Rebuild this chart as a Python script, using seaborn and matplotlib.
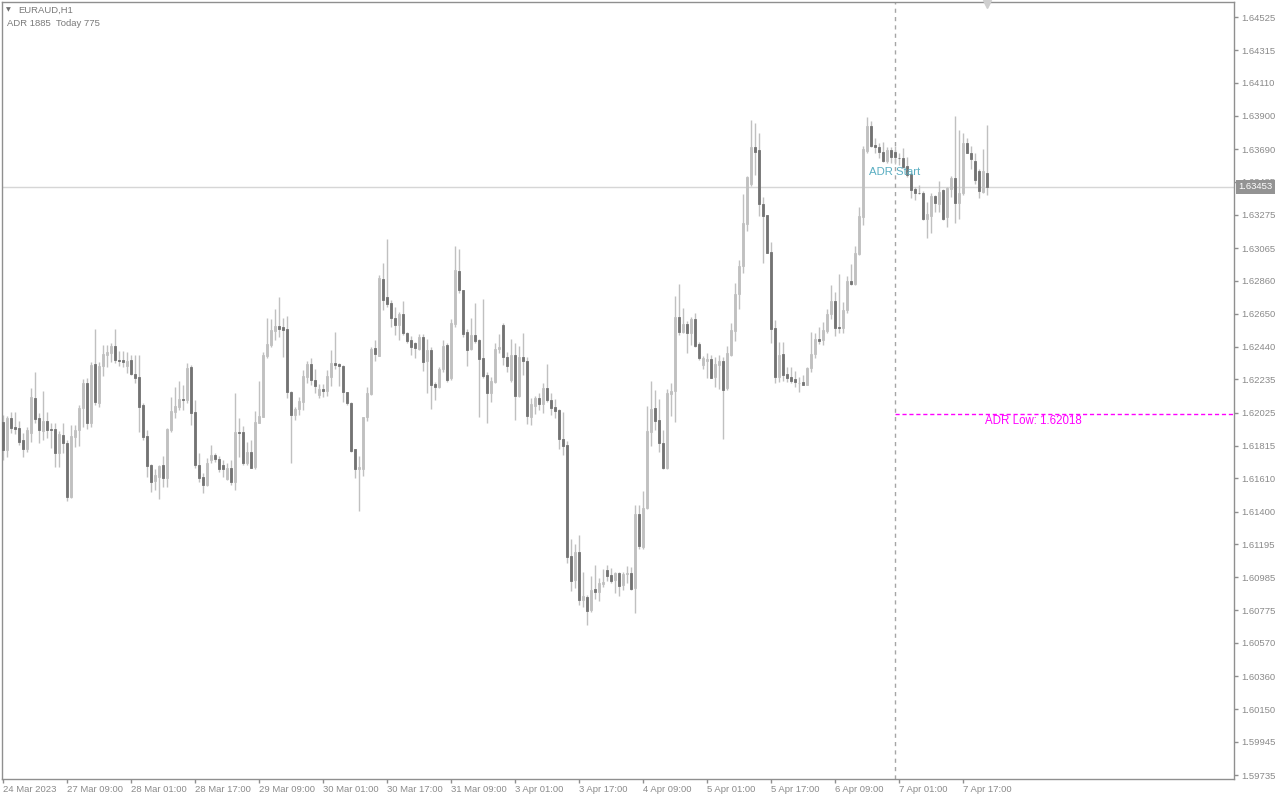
import numpy as np
import pandas as pd
import matplotlib
matplotlib.use("Agg")
import matplotlib.pyplot as plt
import seaborn as sns

# EURAUD H1 candles, 24 Mar 2023 17:00 .. 7 Apr 2023 23:00
opens = [
    1.61968, 1.61789, 1.61993, 1.61936, 1.61930, 1.61852, 1.61795, 1.61898, 1.62120, 1.61993,
    1.61911, 1.61972, 1.61923, 1.61921, 1.61768, 1.61886, 1.61835, 1.61494, 1.61873, 1.61915,
    1.62057, 1.62214, 1.61961, 1.62332, 1.62088, 1.62319, 1.62392, 1.62404, 1.62446, 1.62358,
    1.62358, 1.62321, 1.62358, 1.62269, 1.62252, 1.62074, 1.61877, 1.61694, 1.61595, 1.61620,
    1.61694, 1.61614, 1.61915, 1.62032, 1.62063, 1.62111, 1.62105, 1.62315, 1.62032, 1.61694,
    1.61620, 1.61568, 1.61725, 1.61757, 1.61734, 1.61694, 1.61603, 1.61677, 1.61588, 1.61905,
    1.61905, 1.61708, 1.61779, 1.61679, 1.61961, 1.61999, 1.62385, 1.62453, 1.62543, 1.62572,
    1.62566, 1.62553, 1.62158, 1.62011, 1.62048, 1.62095, 1.62252, 1.62332, 1.62231, 1.62137,
    1.62174, 1.62162, 1.62252, 1.62339, 1.62332, 1.62321, 1.62156, 1.62088, 1.61795, 1.61670,
    1.61670, 1.61995, 1.62143, 1.62436, 1.62385, 1.62869, 1.62758, 1.62720, 1.62625, 1.62579,
    1.62648, 1.62530, 1.62484, 1.62463, 1.62429, 1.62505, 1.62354, 1.62421, 1.62206, 1.62189,
    1.62298, 1.62453, 1.62246, 1.62585, 1.62920, 1.62800, 1.62534, 1.62427, 1.62516, 1.62484,
    1.62373, 1.62263, 1.62151, 1.62221, 1.62425, 1.62579, 1.62379, 1.62231, 1.62389, 1.62130,
    1.62379, 1.62354, 1.62000, 1.62067, 1.62116, 1.62080, 1.62179, 1.62105, 1.62059, 1.62042,
    1.61858, 1.61820, 1.61121, 1.60967, 1.61142, 1.60841, 1.60862, 1.60778, 1.60910, 1.60894,
    1.60940, 1.61031, 1.60999, 1.60967, 1.61009, 1.60936, 1.61005, 1.61014, 1.60915, 1.61383,
    1.61178, 1.61420, 1.61904, 1.62052, 1.61978, 1.61835, 1.61673, 1.62143, 1.62162, 1.62631,
    1.62537, 1.62585, 1.62530, 1.62614, 1.62456, 1.62326, 1.62354, 1.62362, 1.62248, 1.62326,
    1.62354, 1.62179, 1.62389, 1.62543, 1.62773, 1.62952, 1.63215, 1.63470, 1.63701, 1.63684,
    1.63341, 1.63274, 1.63038, 1.62558, 1.62252, 1.62394, 1.62269, 1.62252, 1.62235, 1.62210,
    1.62221, 1.62200, 1.62305, 1.62394, 1.62492, 1.62484, 1.62543, 1.62646, 1.62731, 1.62568,
    1.62562, 1.62674, 1.62857, 1.62836, 1.63025, 1.63263, 1.63680, 1.63838, 1.63716, 1.63705,
    1.63674, 1.63617, 1.63684, 1.63674, 1.63636, 1.63632, 1.63583, 1.63533, 1.63436, 1.63415,
    1.63415, 1.63248, 1.63267, 1.63394, 1.63343, 1.63432, 1.63259, 1.63438, 1.63505, 1.63352,
    1.63415, 1.63731, 1.63667, 1.63615, 1.63552, 1.63421, 1.63541,
]
highs = [
    1.62011, 1.62004, 1.62032, 1.62032, 1.61972, 1.61894, 1.61936, 1.62179, 1.62284, 1.62025,
    1.62162, 1.62032, 1.61961, 1.61961, 1.61909, 1.61961, 1.61852, 1.61947, 1.61947, 1.62074,
    1.62235, 1.62242, 1.62348, 1.62551, 1.62348, 1.62453, 1.62453, 1.62467, 1.62551, 1.62415,
    1.62415, 1.62411, 1.62390, 1.62390, 1.62390, 1.62088, 1.61915, 1.61698, 1.61666, 1.61694,
    1.61751, 1.61930, 1.62126, 1.62189, 1.62225, 1.62200, 1.62336, 1.62326, 1.62105, 1.61768,
    1.61641, 1.61736, 1.61821, 1.61772, 1.61751, 1.61725, 1.61704, 1.61725, 1.62147, 1.61989,
    1.61940, 1.61842, 1.61852, 1.62036, 1.62225, 1.62411, 1.62621, 1.62614, 1.62678, 1.62758,
    1.62621, 1.62635, 1.62160, 1.62063, 1.62122, 1.62294, 1.62354, 1.62373, 1.62298, 1.62204,
    1.62204, 1.62294, 1.62421, 1.62537, 1.62341, 1.62326, 1.62158, 1.62090, 1.61797, 1.61751,
    1.61999, 1.62189, 1.62442, 1.62484, 1.62895, 1.62968, 1.63120, 1.62737, 1.62695, 1.62663,
    1.62731, 1.62537, 1.62509, 1.62474, 1.62522, 1.62522, 1.62488, 1.62442, 1.62221, 1.62311,
    1.62484, 1.62463, 1.62614, 1.63078, 1.63059, 1.62802, 1.62555, 1.62621, 1.62720, 1.62488,
    1.62741, 1.62284, 1.62252, 1.62463, 1.62522, 1.62593, 1.62410, 1.62488, 1.62463, 1.62446,
    1.62526, 1.62375, 1.62116, 1.62130, 1.62147, 1.62210, 1.62333, 1.62147, 1.62109, 1.62046,
    1.62031, 1.61848, 1.61226, 1.61195, 1.61252, 1.61020, 1.60873, 1.60992, 1.61062, 1.60978,
    1.61035, 1.61062, 1.61041, 1.61020, 1.61020, 1.61020, 1.61058, 1.61052, 1.61441, 1.61441,
    1.61530, 1.62069, 1.62225, 1.62168, 1.62109, 1.61915, 1.62172, 1.62210, 1.62764, 1.62836,
    1.62684, 1.62606, 1.62627, 1.62652, 1.62469, 1.62383, 1.62404, 1.62389, 1.62375, 1.62389,
    1.62379, 1.62446, 1.62593, 1.62846, 1.62989, 1.63404, 1.63520, 1.63874, 1.63853, 1.63790,
    1.63385, 1.63276, 1.63105, 1.62610, 1.62473, 1.62473, 1.62315, 1.62311, 1.62290, 1.62252,
    1.62263, 1.62315, 1.62537, 1.62530, 1.62568, 1.62600, 1.62680, 1.62831, 1.62789, 1.62901,
    1.62726, 1.62888, 1.62962, 1.63078, 1.63326, 1.63712, 1.63895, 1.63870, 1.63758, 1.63727,
    1.63737, 1.63701, 1.63701, 1.63710, 1.63667, 1.63699, 1.63642, 1.63547, 1.63449, 1.63463,
    1.63425, 1.63358, 1.63411, 1.63400, 1.63488, 1.63436, 1.63449, 1.63520, 1.63899, 1.63811,
    1.63790, 1.63758, 1.63710, 1.63667, 1.63562, 1.63688, 1.63842,
]
lows = [
    1.61726, 1.61747, 1.61894, 1.61890, 1.61821, 1.61747, 1.61779, 1.61842, 1.61957, 1.61831,
    1.61852, 1.61863, 1.61800, 1.61683, 1.61683, 1.61772, 1.61469, 1.61484, 1.61806, 1.61814,
    1.61932, 1.61919, 1.61932, 1.62074, 1.62059, 1.62258, 1.62315, 1.62348, 1.62341, 1.62319,
    1.62315, 1.62273, 1.62263, 1.62214, 1.61905, 1.61852, 1.61620, 1.61526, 1.61536, 1.61477,
    1.61557, 1.61557, 1.61905, 1.61989, 1.62042, 1.62042, 1.62084, 1.61947, 1.61673, 1.61588,
    1.61515, 1.61562, 1.61704, 1.61714, 1.61651, 1.61620, 1.61599, 1.61568, 1.61536, 1.61747,
    1.61694, 1.61694, 1.61673, 1.61668, 1.61957, 1.61995, 1.62369, 1.62438, 1.62484, 1.62501,
    1.62379, 1.62120, 1.61708, 1.61978, 1.62011, 1.62042, 1.62214, 1.62200, 1.62147, 1.62116,
    1.62126, 1.62130, 1.62195, 1.62298, 1.62195, 1.62095, 1.62074, 1.61779, 1.61614, 1.61406,
    1.61624, 1.61974, 1.62135, 1.62354, 1.62383, 1.62673, 1.62695, 1.62568, 1.62516, 1.62484,
    1.62516, 1.62463, 1.62390, 1.62369, 1.62421, 1.62290, 1.62147, 1.62048, 1.62105, 1.62179,
    1.62284, 1.62221, 1.62231, 1.62564, 1.62779, 1.62505, 1.62319, 1.62421, 1.62463, 1.61999,
    1.62242, 1.61957, 1.62095, 1.62214, 1.62404, 1.62326, 1.62284, 1.62221, 1.61978, 1.62126,
    1.62263, 1.61953, 1.61947, 1.62017, 1.62042, 1.62021, 1.62095, 1.62011, 1.61989, 1.61793,
    1.61757, 1.61077, 1.60898, 1.60915, 1.60810, 1.60799, 1.60683, 1.60763, 1.60845, 1.60837,
    1.60921, 1.60961, 1.60950, 1.60883, 1.60866, 1.60904, 1.60950, 1.60904, 1.60761, 1.61161,
    1.61161, 1.61415, 1.61816, 1.61915, 1.61778, 1.61670, 1.61670, 1.62004, 1.61968, 1.62516,
    1.62530, 1.62404, 1.62452, 1.62442, 1.62358, 1.62298, 1.62242, 1.62242, 1.62185, 1.62172,
    1.61856, 1.62168, 1.62383, 1.62478, 1.62678, 1.62909, 1.63175, 1.63457, 1.63526, 1.63267,
    1.62968, 1.63031, 1.62467, 1.62214, 1.62221, 1.62227, 1.62221, 1.62210, 1.62185, 1.62158,
    1.62198, 1.62198, 1.62284, 1.62368, 1.62459, 1.62452, 1.62530, 1.62614, 1.62509, 1.62530,
    1.62526, 1.62657, 1.62831, 1.62834, 1.63021, 1.63210, 1.63663, 1.63705, 1.63667, 1.63632,
    1.63611, 1.63604, 1.63600, 1.63596, 1.63590, 1.63569, 1.63516, 1.63379, 1.63368, 1.63407,
    1.63242, 1.63126, 1.63162, 1.63295, 1.63295, 1.63242, 1.63200, 1.63390, 1.63225, 1.63246,
    1.63400, 1.63663, 1.63562, 1.63470, 1.63379, 1.63415, 1.63400,
]
closes = [
    1.61789, 1.61993, 1.61930, 1.61921, 1.61842, 1.61795, 1.61915, 1.62126, 1.61984, 1.61915,
    1.61972, 1.61915, 1.61915, 1.61768, 1.61890, 1.61831, 1.61494, 1.61877, 1.61915, 1.62057,
    1.62214, 1.61961, 1.62328, 1.62095, 1.62319, 1.62396, 1.62411, 1.62446, 1.62358, 1.62354,
    1.62348, 1.62352, 1.62269, 1.62246, 1.62063, 1.61873, 1.61689, 1.61588, 1.61630, 1.61689,
    1.61614, 1.61921, 1.62036, 1.62067, 1.62111, 1.62105, 1.62309, 1.62025, 1.61694, 1.61614,
    1.61568, 1.61710, 1.61757, 1.61734, 1.61668, 1.61666, 1.61677, 1.61588, 1.61905, 1.61894,
    1.61708, 1.61779, 1.61677, 1.61968, 1.62004, 1.62390, 1.62459, 1.62547, 1.62572, 1.62555,
    1.62547, 1.62158, 1.62011, 1.62048, 1.62099, 1.62258, 1.62332, 1.62231, 1.62193, 1.62176,
    1.62162, 1.62258, 1.62341, 1.62326, 1.62319, 1.62156, 1.62088, 1.61785, 1.61670, 1.61679,
    1.61995, 1.62151, 1.62429, 1.62396, 1.62878, 1.62737, 1.62712, 1.62625, 1.62579, 1.62648,
    1.62530, 1.62480, 1.62442, 1.62432, 1.62505, 1.62348, 1.62421, 1.62200, 1.62189, 1.62300,
    1.62446, 1.62231, 1.62593, 1.62926, 1.62800, 1.62522, 1.62421, 1.62516, 1.62480, 1.62364,
    1.62258, 1.62151, 1.62227, 1.62427, 1.62438, 1.62379, 1.62320, 1.62389, 1.62130, 1.62375,
    1.62352, 1.62004, 1.62078, 1.62116, 1.62078, 1.62179, 1.62105, 1.62057, 1.62038, 1.61856,
    1.61816, 1.61115, 1.60963, 1.61142, 1.60841, 1.60868, 1.60774, 1.60904, 1.60894, 1.60946,
    1.60957, 1.60992, 1.60961, 1.61009, 1.60929, 1.61005, 1.61009, 1.60910, 1.61383, 1.61184,
    1.61420, 1.61911, 1.62046, 1.61974, 1.61835, 1.61673, 1.62147, 1.62162, 1.62631, 1.62537,
    1.62585, 1.62530, 1.62614, 1.62446, 1.62373, 1.62373, 1.62362, 1.62246, 1.62331, 1.62354,
    1.62168, 1.62400, 1.62547, 1.62775, 1.62952, 1.63225, 1.63516, 1.63705, 1.63674, 1.63341,
    1.63267, 1.63036, 1.62553, 1.62252, 1.62389, 1.62263, 1.62242, 1.62227, 1.62221, 1.62214,
    1.62200, 1.62305, 1.62396, 1.62488, 1.62480, 1.62547, 1.62648, 1.62731, 1.62562, 1.62562,
    1.62674, 1.62859, 1.62836, 1.63031, 1.63267, 1.63691, 1.63838, 1.63710, 1.63701, 1.63674,
    1.63617, 1.63684, 1.63638, 1.63638, 1.63632, 1.63579, 1.63526, 1.63432, 1.63415, 1.63411,
    1.63248, 1.63280, 1.63394, 1.63352, 1.63421, 1.63248, 1.63442, 1.63510, 1.63352, 1.63415,
    1.63731, 1.63667, 1.63625, 1.63495, 1.63425, 1.63552, 1.63453,
]

# time axis labels (every 16 bars)
time_labels = ["24 Mar 2023", "27 Mar 09:00", "28 Mar 01:00", "28 Mar 17:00",
               "29 Mar 09:00", "30 Mar 01:00", "30 Mar 17:00", "31 Mar 09:00",
               "3 Apr 01:00", "3 Apr 17:00", "4 Apr 09:00", "5 Apr 01:00",
               "5 Apr 17:00", "6 Apr 09:00", "7 Apr 01:00", "7 Apr 17:00"]
time_label_bars = [0, 16, 32, 48, 64, 80, 96, 112, 128, 144, 160, 176, 192, 208, 224, 240]

price_ticks = [1.64525, 1.64315, 1.64110, 1.63900, 1.63690, 1.63485, 1.63275, 1.63065,
               1.62860, 1.62650, 1.62440, 1.62235, 1.62025, 1.61815, 1.61610, 1.61400,
               1.61195, 1.60985, 1.60775, 1.60570, 1.60360, 1.60150, 1.59945, 1.59735]

bid_price = 1.63453
adr_start_bar = 223
adr_start_label_price = 1.63546
adr_low = 1.62018
symbol_title = "EURAUD,H1"
adr_info = "ADR 1885  Today 775"

df = pd.DataFrame({"open": opens, "high": highs, "low": lows, "close": closes})
df["bar"] = np.arange(len(df))
df["bull"] = df["close"] >= df["open"]
df["body_lo"] = df[["open", "close"]].min(axis=1)
df["body_h"] = (df["close"] - df["open"]).abs()

sns.set_theme(style="white")
plt.rcParams["font.family"] = ["Liberation Sans", "DejaVu Sans"]

bull_col = "#c0c0c0"
bear_col = "#737373"
wick_col = "#c0c0c0"
frame_col = "#8f8f8f"
label_col = "#8a8a8a"

fig = plt.figure(figsize=(12.8, 8), dpi=100)
fig.patch.set_facecolor("white")
ax = fig.add_axes([2 / 1280, 21 / 800, 1232 / 1280, 777 / 800])
ax.set_facecolor("white")

# bid line behind everything
ax.axhline(bid_price, color="#d6d6d6", lw=1, zorder=1)

# wicks and bodies
ax.vlines(df["bar"], df["low"], df["high"], color=wick_col, lw=1, zorder=2)
cols = np.where(df["bull"], bull_col, bear_col)
ax.bar(df["bar"], df["body_h"], bottom=df["body_lo"], width=0.62,
       color=cols, edgecolor=cols, linewidth=0.6, zorder=3)

# ADR objects
ax.axvline(adr_start_bar, color="#a6a6a6", lw=1, ls=(0, (3, 3)), zorder=1)
ax.hlines(adr_low, adr_start_bar, 400, color="#ff00ff", lw=1, ls=(0, (3, 2)), zorder=4)
ax.text(adr_start_bar, adr_start_label_price, "ADR Start", color="#5aaec2",
        fontsize=8.2, ha="center", va="center", zorder=5)
ax.text(len(df) - 1.5, adr_low - 0.00044, f"ADR Low: {adr_low:.5f}", color="#ff00ff",
        fontsize=8.3, ha="left", va="center", zorder=5)

ax.set_xlim(-0.25, 307.75)
ax.set_ylim(1.59710, 1.64620)

# axes, ticks
for s in ax.spines.values():
    s.set_color(frame_col)
    s.set_linewidth(1)
ax.yaxis.tick_right()
ax.set_yticks(price_ticks)
ax.set_yticklabels([f"{p:.5f}" for p in price_ticks])
ax.set_xticks(time_label_bars)
ax.set_xticklabels(time_labels, ha="left")
ax.tick_params(axis="y", which="both", right=True, left=False, direction="out",
               length=3, width=1, color=frame_col, labelsize=6.8,
               labelcolor=label_col, pad=2)
ax.tick_params(axis="x", which="both", bottom=True, direction="out",
               length=3, width=1, color=frame_col, labelsize=6.8,
               labelcolor=label_col, pad=1.5)
for lab in ax.get_xticklabels():
    lab.set_horizontalalignment("left")
ax.grid(False)

# bid price tag on the right scale
ax.text(1.0035, bid_price, f"{bid_price:.5f}", transform=ax.get_yaxis_transform(),
        color="white", fontsize=6.8, ha="left", va="center", zorder=10,
        bbox=dict(boxstyle="square,pad=0.28", fc="#939393", ec="none"), clip_on=False)

# chart shift marker above the last bar
ax.plot([len(df) - 1], [0.997], transform=ax.get_xaxis_transform(), marker="v",
        ms=6, color="#cfcfcf", clip_on=False, zorder=6)

# header
fig.text(6 / 1280, 1 - 10 / 800, "\u25bc", fontsize=4.5, color="#707070", va="center",
         family="DejaVu Sans")
fig.text(18 / 1280, 1 - 10 / 800, symbol_title, fontsize=6.8, color="#7a7a7a", va="center")
fig.text(7 / 1280, 1 - 23 / 800, adr_info, fontsize=6.8, color="#7a7a7a", va="center")

fig.savefig("out.png", dpi=100)
